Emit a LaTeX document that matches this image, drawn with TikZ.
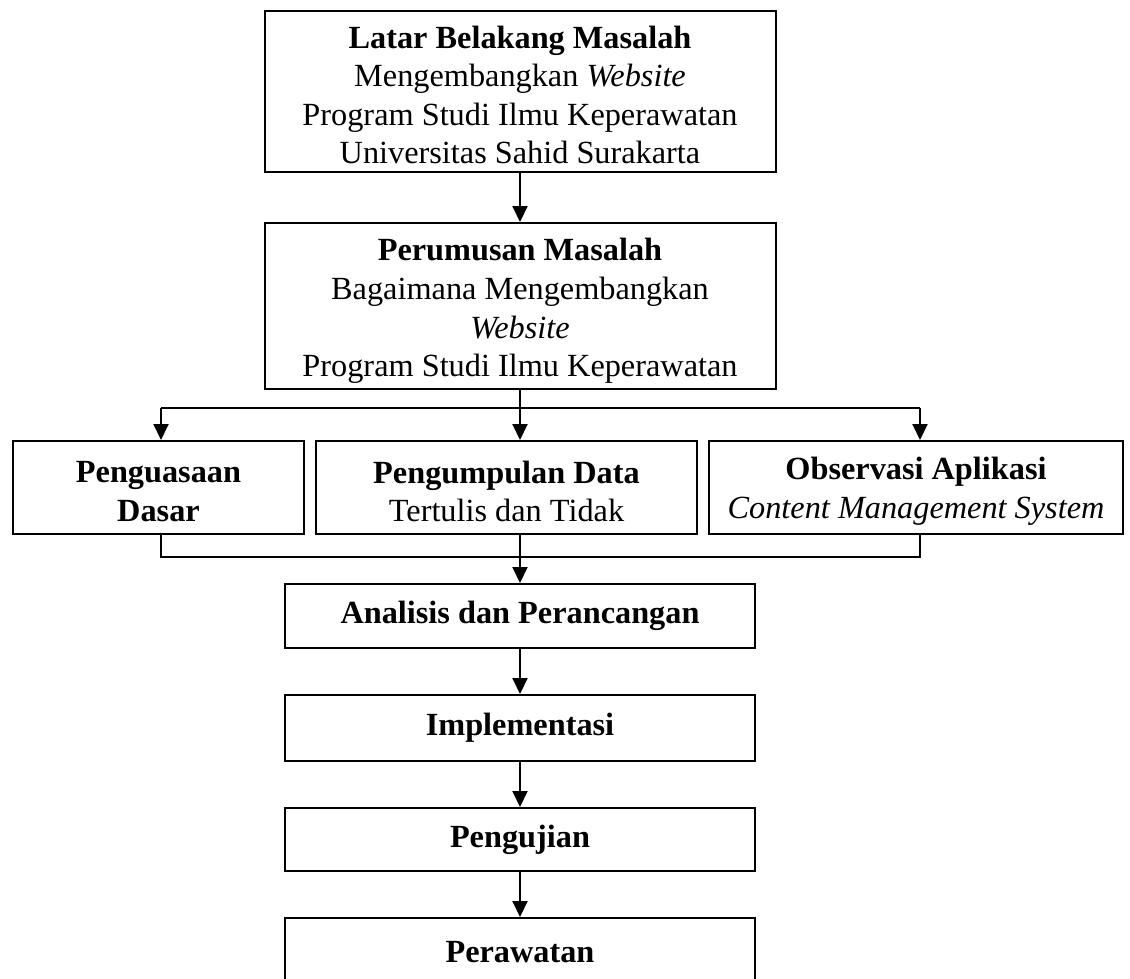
\documentclass[tikz,border=0pt]{standalone}
\usepackage{fontspec}
\setmainfont{Liberation Serif}
\usetikzlibrary{arrows.meta}
\begin{document}
\begin{tikzpicture}[x=1pt,y=-1pt,
  box/.style={draw, line width=2pt, rectangle, inner sep=0pt},
  txt/.style={inner sep=0pt, align=center,
    font=\fontsize{32.3pt}{38.6pt}\selectfont},
  link/.style={line width=2pt},
  arr/.style={line width=2pt, -{Triangle[width=15pt,length=16pt]}}]
\useasboundingbox (0,0) rectangle (1130,979);
\clip (0,0) rectangle (1130,979);
\fill[white] (0,0) rectangle (1130,979);

% boxes
\node[box, minimum width=511pt, minimum height=161pt] (latar) at (520,91.5) {};
\node[box, minimum width=511pt, minimum height=166pt] (rumus) at (520,306) {};
\node[box, minimum width=291pt, minimum height=93pt] (kuasa) at (158.5,487.5) {};
\node[box, minimum width=381pt, minimum height=93pt] (kumpul) at (506.5,487.5) {};
\node[box, minimum width=414pt, minimum height=93pt] (obs) at (916,487.5) {};
\node[box, minimum width=470pt, minimum height=64pt] (ana) at (520,616) {};
\node[box, minimum width=470pt, minimum height=66pt] (impl) at (520,728) {};
\node[box, minimum width=470pt, minimum height=63pt] (uji) at (520,839.5) {};
\node[box, minimum width=470pt, minimum height=65pt] (rawat) at (520,950.5) {};

% texts
\node[txt] (latarT) at ([yshift=-3.5pt]latar.center)
  {\textbf{Latar Belakang Masalah}\\Mengembangkan \textit{Website}\\Program Studi Ilmu Keperawatan\\Universitas Sahid Surakarta};
\node[txt] (rumusT) at ([yshift=-5pt]rumus.center)
  {\textbf{Perumusan Masalah}\\Bagaimana Mengembangkan\\\textit{Website}\\Program Studi Ilmu Keperawatan};
\node[txt] (kuasaT) at ([yshift=-4pt]kuasa.center)
  {\textbf{Penguasaan}\\\textbf{Dasar}};
\node[txt] (kumpulT) at ([yshift=-4pt]kumpul.center)
  {\textbf{Pengumpulan Data}\\Tertulis dan Tidak};
\node[txt] (obsT) at ([yshift=-4pt]obs.center)
  {\textbf{Observasi Aplikasi}\\\textit{Content Management System}};
\node[txt] (anaT) at (ana.center) {\textbf{Analisis dan Perancangan}};
\node[txt] (implT) at (impl.center) {\textbf{Implementasi}};
\node[txt] (ujiT) at (uji.center) {\textbf{Pengujian}};
\node[txt] (rawatT) at ([yshift=-2pt]rawat.center) {\textbf{Perawatan}};

% connectors
\coordinate (bm) at (520,408);
\coordinate (bl) at (161,408);
\coordinate (br) at (920,408);
\coordinate (km) at (520,557);
\coordinate (kl) at (161,557);
\coordinate (kr) at (920,557);

\draw[arr] (latar.south) -- (rumus.north);
\draw[link] (rumus.south) -- (bm);
\draw[link] (bl) -- (br);
\draw[arr] (bl) -- (bl |- kuasa.north);
\draw[arr] (bm) -- (bm |- kumpul.north);
\draw[arr] (br) -- (br |- obs.north);

\draw[link] (kl |- kuasa.south) -- (kl) -- (kr) -- (kr |- obs.south);
\draw[arr] (km |- kumpul.south) -- (ana.north);
\draw[arr] (ana.south) -- (impl.north);
\draw[arr] (impl.south) -- (uji.north);
\draw[arr] (uji.south) -- (rawat.north);
\end{tikzpicture}
\end{document}
